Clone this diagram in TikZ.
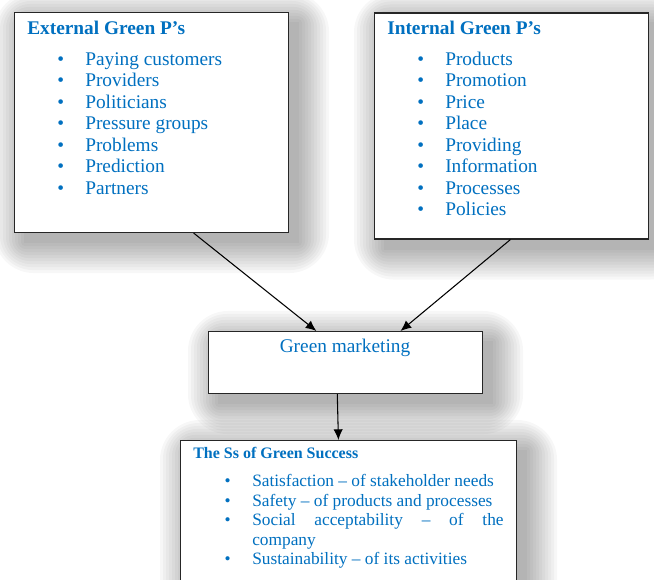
\documentclass[tikz,border=0pt]{standalone}
\usepackage{fontspec}
\setmainfont{Liberation Serif}
\usetikzlibrary{arrows.meta,calc,matrix,backgrounds}

\definecolor{pblue}{RGB}{0,112,192}

% soft grey shadow below and right of a box
\newcommand{\boxshadow}[1]{%
  \foreach \r in {0,3,...,30}
    \fill[black, opacity=0.033, rounded corners=\r pt]
      ($(#1.north west)+(10-\r,10-\r)$) rectangle ($(#1.south east)+(10+\r,10+\r)$);
}

\tikzset{
  pbox/.style={draw=black!85, line width=0.8pt, fill=white, anchor=north west},
  ptitle/.style={anchor=base west, inner sep=0pt, text=pblue,
    font=\fontsize{14.5}{16}\selectfont\bfseries},
  plist/.style={matrix of nodes, anchor=north west, inner sep=0pt,
    row sep={16.1pt,between origins}, column sep=0pt,
    nodes={anchor=base west, inner sep=0pt, text height=10pt, text depth=2pt,
           text=pblue, font=\fontsize{14.5}{16}\selectfont},
    column 1/.style={nodes={text width=21pt}}},
  link/.style={-{Latex[length=8pt,width=7pt]}, line width=0.8pt},
}

\begin{document}
\begin{tikzpicture}[x=0.75pt, y=-0.75pt]
  \useasboundingbox (0,0) rectangle (654,580);

  % the four boxes
  \node[pbox, minimum width=205.5pt, minimum height=165pt] (ext) at (14,12) {};
  \node[pbox, minimum width=205.5pt, minimum height=169.5pt] (int) at (374,12.5) {};
  \node[pbox, minimum width=205.5pt, minimum height=46.5pt] (gm) at (208,331) {};
  \node[pbox, minimum width=252pt, minimum height=120pt] (ss) at (180,440) {};

  \begin{scope}[on background layer]
    \boxshadow{ext}
    \boxshadow{int}
    \boxshadow{gm}
    \boxshadow{ss}
  \end{scope}

  % external P's
  \node[ptitle] (exttitle) at (27,35) {External Green P's};
  \matrix (extlist) [plist] at (57,51.7)
  {
    \textbullet & Paying customers \\
    \textbullet & Providers \\
    \textbullet & Politicians \\
    \textbullet & Pressure groups \\
    \textbullet & Problems \\
    \textbullet & Prediction \\
    \textbullet & Partners \\
  };

  % internal P's
  \node[ptitle] (inttitle) at (387,35) {Internal Green P's};
  \matrix (intlist) [plist] at (417,51.7)
  {
    \textbullet & Products \\
    \textbullet & Promotion \\
    \textbullet & Price \\
    \textbullet & Place \\
    \textbullet & Providing \\
    \textbullet & Information \\
    \textbullet & Processes \\
    \textbullet & Policies \\
  };

  \node[anchor=base, inner sep=0pt, text=pblue, font=\fontsize{14.5}{16}\selectfont]
    (gmtitle) at (345,353) {Green marketing};

  % the Ss
  \node[ptitle, font=\fontsize{12}{14}\selectfont\bfseries] (sstitle) at (193,459)
    {The Ss of Green Success};
  \matrix (sslist) [plist, row sep={14.55pt,between origins},
    nodes={text height=9pt, text depth=2pt, font=\fontsize{13}{15}\selectfont},
    column 1/.style={nodes={text width=20.8pt}}] at (224,474.7)
  {
    \textbullet & Satisfaction -- of stakeholder needs \\
    \textbullet & Safety -- of products and processes \\
    \textbullet & \makebox[188.5pt][s]{Social acceptability -- of the} \\
                & company \\
    \textbullet & Sustainability -- of its activities \\
  };

  % connectors
  \draw[link] ($(ext.south west)!.653!(ext.south east)$) -- ($(gm.north west)!.394!(gm.north east)$);
  \draw[link] ($(int.south west)!.496!(int.south east)$) -- ($(gm.north west)!.70!(gm.north east)$);
  \draw[link] ($(gm.south west)!.47!(gm.south east)$) -- ($(ss.north west)!.47!(ss.north east)$);
\end{tikzpicture}
\end{document}
